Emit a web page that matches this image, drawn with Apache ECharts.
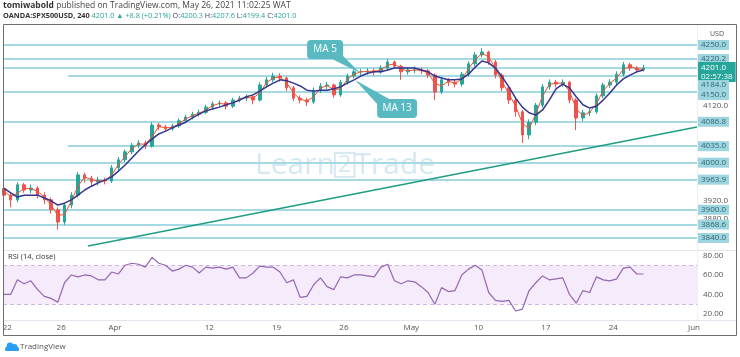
<!DOCTYPE html>
<html><head><meta charset="utf-8">
<script src="https://cdn.jsdelivr.net/npm/echarts@6/dist/echarts.min.js"></script>
<style>html,body{margin:0;padding:0;background:#fff}#c{width:740px;height:357px}</style>
</head><body><div id="c"></div>
<script>
// 12-hour bars, trading-day index (Mar 22 = 0)
const barOpen = [3945,3931,3921,3953,3942,3946,3931,3921,3900,3874, 3910,3931,3974,3967,3959,3963,3961,3989,4006,4023, 4037,4042,4035,4080,4076,4072,4078,4089,4097,4103, 4107,4118,4125,4127,4120,4133,4137,4140,4133,4165, 4176,4184,4180,4159,4137,4133,4129,4154,4163,4165, 4144,4171,4184,4193,4193,4195,4193,4201,4214,4205, 4193,4197,4197,4195,4186,4150,4176,4171,4167,4188, 4210,4229,4235,4214,4186,4159,4133,4108,4059,4086, 4122,4161,4171,4167,4171,4133,4095,4106,4108,4142, 4165,4171,4188,4208,4201,4197];
const barClose = [3931,3921,3953,3942,3946,3931,3921,3900,3874,3910, 3931,3974,3967,3959,3963,3961,3989,4006,4023,4037, 4042,4035,4080,4076,4072,4078,4089,4097,4103,4107, 4118,4125,4127,4120,4133,4137,4140,4133,4165,4176, 4184,4180,4159,4137,4133,4129,4154,4163,4165,4144, 4171,4184,4193,4193,4195,4193,4201,4214,4205,4193, 4197,4197,4195,4186,4150,4176,4171,4167,4188,4210, 4229,4235,4214,4186,4159,4133,4108,4059,4086,4122, 4161,4171,4167,4171,4133,4095,4106,4108,4142,4165, 4171,4188,4208,4201,4197,4201];
const barHigh = [3952,3936,3958,3957,3954,3950,3937,3926,3905,3915, 3937,3980,3979,3972,3970,3968,3995,4012,4028,4042, 4048,4047,4086,4085,4080,4083,4094,4102,4108,4113, 4123,4130,4132,4131,4138,4142,4145,4143,4171,4182, 4191,4190,4183,4163,4143,4138,4160,4169,4172,4168, 4176,4189,4198,4199,4201,4200,4207,4220,4217,4208, 4203,4204,4202,4199,4190,4181,4180,4177,4193,4215, 4235,4243,4238,4218,4190,4164,4138,4112,4092,4127, 4167,4177,4176,4177,4174,4137,4112,4114,4147,4170, 4177,4194,4214,4212,4205,4208];
const barLow = [3925,3905,3916,3936,3935,3924,3912,3892,3858,3868, 3903,3926,3958,3950,3952,3954,3957,3984,4001,4018, 4031,4029,4032,4069,4066,4068,4074,4085,4092,4098, 4103,4114,4119,4113,4116,4128,4131,4124,4130,4160, 4171,4172,4152,4131,4126,4120,4125,4148,4156,4138, 4140,4166,4179,4186,4187,4185,4189,4196,4199,4176, 4187,4190,4188,4180,4133,4146,4163,4160,4162,4183, 4205,4224,4208,4179,4152,4125,4098,4042,4050,4080, 4117,4155,4160,4161,4126,4069,4088,4099,4104,4137, 4159,4166,4183,4195,4191,4194];
const ma5 = [3940,3928,3935,3945,3945,3939,3927,3910,3888,3890, 3918,3950,3970,3964,3961,3962,3974,3996,4013,4030, 4040,4039,4055,4077,4074,4075,4083,4093,4100,4105, 4112,4121,4126,4124,4127,4135,4139,4137,4148,4170, 4180,4182,4170,4148,4135,4131,4140,4158,4164,4155, 4157,4177,4188,4193,4194,4194,4197,4207,4210,4199, 4195,4197,4196,4191,4168,4163,4173,4169,4177,4199, 4219,4232,4225,4200,4172,4146,4120,4084,4072,4104, 4141,4166,4169,4169,4152,4114,4100,4107,4125,4153, 4168,4180,4198,4205,4199,4199];
const ma13 = [3946,3936,3927,3931,3931,3931,3925,3919,3910,3914, 3921,3931,3942,3950,3957,3963,3970,3982,3995,4010, 4025,4038,4050,4061,4067,4074,4080,4086,4095,4103, 4110,4114,4118,4123,4127,4133,4140,4144,4152,4161, 4169,4176,4174,4169,4163,4154,4152,4154,4154,4157, 4161,4169,4176,4184,4190,4193,4193,4197,4201,4201, 4201,4201,4197,4193,4184,4180,4176,4176,4178,4188, 4203,4216,4212,4201,4182,4161,4137,4118,4106,4101, 4112,4133,4157,4167,4159,4140,4123,4116,4120,4133, 4148,4165,4178,4186,4193,4197];
const rsi = [40,40,55,51,54,45,38,36,32,52, 60,58,60,59,55,55,63,61,70,72, 71,68,78,72,70,64,66,70,68,62, 68,67,68,66,68,57,57,62,69,68, 68,63,52,55,37,38,50,57,48,45, 58,57,60,60,59,58,68,71,54,51, 54,53,48,42,30,47,43,44,60,66, 70,65,42,34,33,34,23,25,44,52, 59,55,56,57,40,31,44,42,58,55, 54,56,67,68,61,61];

const tickDays = [0,4,8,15,20,25,30,35,40,45,51];
const tickLabels = ['22','26','Apr','12','19','26','May','10','17','24','Jun'];
const levelLines = [4250,4220.2,4201,4184,4150,4086.8,4035,4000,3963.9,3900,3868.6,3840];
const rayLevels = [4184,4035];
const rayStartDay = 4.5;
const priceTicks = [4120,3920,3880];
const rsiTicks = [80,60,40,20];
const trendLine = [[6.0,3823],[51.22,4075.8]];
const lastPrice = 4201.0;
const countdown = '02:57:38';

const X_MIN = -0.32, X_MAX = 51.22;
const barTime = j => j * 0.5 - 0.25;
const FONT = 'Open Sans';

const candleData = barOpen.map((o, j) => [barTime(j), o, barClose[j], barLow[j], barHigh[j]]);
const ma5Data = ma5.map((v, j) => [barTime(j), v]);
const ma13Data = ma13.map((v, j) => [barTime(j), v]);
const rsiData = rsi.map((v, j) => [barTime(j), v]);
const labelMap = {}; tickDays.forEach((d, i) => labelMap[d] = tickLabels[i]);

const levelLabelBase = {show:true, position:'end', distance:1, fontSize:8, fontFamily:FONT,
  backgroundColor:'#9dd5e0', color:'#33636d', padding:[1,3,1,3]};
const labelShift = {4184:[0,9], 4150:[0,3]};
const levelData = levelLines.map(v => {
  let lab = Object.assign({}, levelLabelBase, {formatter: v.toFixed(1)});
  if (labelShift[v]) lab.offset = labelShift[v];
  if (v === lastPrice) {
    lab = Object.assign({}, levelLabelBase, {formatter: v.toFixed(1) + '\n' + countdown,
      backgroundColor:'#26a69a', color:'#fff', lineHeight:9, offset:[0,4]});
  }
  const ls = {color:'#a6d9e3', width:2, type:'solid'};
  if (rayLevels.includes(v)) {
    return [{coord:[rayStartDay, v], label: lab, lineStyle: ls}, {coord:[X_MAX, v]}];
  }
  return {yAxis: v, label: lab, lineStyle: ls};
});

const chart = echarts.init(document.getElementById('c'), null, {renderer:'canvas'});
const option = {
  animation:false,
  backgroundColor:'#ffffff',
  grid:[
    {left:3, right:43, top:24, height:226, containLabel:false, outerBoundsMode:'none'},
    {left:3, right:43, top:250, height:70, containLabel:false, outerBoundsMode:'none'}
  ],
  xAxis:[
    {type:'value', gridIndex:0, min:X_MIN, max:X_MAX, show:false},
    {type:'value', gridIndex:1, min:X_MIN, max:X_MAX,
      axisLine:{show:false}, axisTick:{show:false}, splitLine:{show:false},
      axisLabel:{customValues:tickDays, formatter:v => labelMap[v] || '', fontSize:8, color:'#555', fontFamily:FONT, margin:4}}
  ],
  yAxis:[
    {type:'value', gridIndex:0, position:'right', min:3814.5, max:4294.6,
      axisLine:{show:false}, axisTick:{show:false}, splitLine:{show:false},
      axisLabel:{customValues:priceTicks, formatter:v => v.toFixed(1), fontSize:8, color:'#555', fontFamily:FONT, margin:6}},
    {type:'value', gridIndex:1, position:'right', min:13.8, max:85.6,
      axisLine:{show:false}, axisTick:{show:false}, splitLine:{show:false},
      axisLabel:{customValues:rsiTicks, formatter:v => v.toFixed(2), fontSize:8, color:'#555', fontFamily:FONT, margin:6}}
  ],
  series:[
    {type:'candlestick', xAxisIndex:0, yAxisIndex:0, data:candleData, barWidth:3, z:3,
      itemStyle:{color:'#26a69a', color0:'#ef5350', borderColor:'#26a69a', borderColor0:'#ef5350', borderWidth:1},
      markLine:{silent:true, symbol:['none','none'], animation:false, z:1, data:levelData}},
    {type:'line', xAxisIndex:0, yAxisIndex:0, data:trendLine, symbol:'none', z:2,
      lineStyle:{color:'#1f9d84', width:1.5}},
    {type:'line', xAxisIndex:0, yAxisIndex:0, data:ma5Data, symbol:'none', z:5,
      lineStyle:{color:'#f0502d', width:1}},
    {type:'line', xAxisIndex:0, yAxisIndex:0, data:ma13Data, symbol:'none', z:6,
      lineStyle:{color:'#35358f', width:1.5}},
    {type:'line', xAxisIndex:1, yAxisIndex:1, data:rsiData, symbol:'none', z:5,
      lineStyle:{color:'#9466b3', width:1.2},
      markArea:{silent:true, itemStyle:{color:'rgba(190,130,225,0.16)'}, data:[[{yAxis:30},{yAxis:70}]]},
      markLine:{silent:true, symbol:['none','none'], label:{show:false},
        lineStyle:{color:'#cdb6e3', type:[4,3], width:1}, data:[{yAxis:70},{yAxis:30}]}}
  ],
  graphic:{elements:[
    {id:'wm', type:'text', x:255, y:165, z:0, silent:true,
      style:{text:'{a|Learn}{b|2}{a|Trade}', verticalAlign:'middle',
        rich:{a:{fontSize:30, fontFamily:FONT, fill:'#d6e9f3'},
              b:{fontSize:24, fontFamily:FONT, fill:'#d6e9f3', borderColor:'#d6e9f3', borderWidth:2, padding:[0,3,0,3]}}}},
    {id:'frame', type:'rect', z:50, silent:true, shape:{x:3.5, y:24.5, width:733, height:311},
      style:{fill:'none', stroke:'#6e6e6e', lineWidth:1}},
    {id:'sep1', type:'line', z:49, silent:true, shape:{x1:3, y1:250.5, x2:737, y2:250.5}, style:{stroke:'#e3e6ee', lineWidth:1}},
    {id:'sep2', type:'line', z:49, silent:true, shape:{x1:3, y1:320.5, x2:737, y2:320.5}, style:{stroke:'#e3e6ee', lineWidth:1}},
    {id:'sep3', type:'line', z:49, silent:true, shape:{x1:697.5, y1:24, x2:697.5, y2:320}, style:{stroke:'#eceff4', lineWidth:1}},
    {id:'h1', type:'text', x:3, y:6, z:60, style:{text:'{b|tomiwabold} published on TradingView.com, May 26, 2021 11:02:25 WAT',
      verticalAlign:'middle', fontSize:8.5, fontFamily:FONT, fill:'#444', rich:{b:{fontSize:8.5, fontWeight:'bold', fontFamily:FONT, fill:'#333'}}}},
    {id:'h2', type:'text', x:3, y:16, z:60, style:{text:'{b|OANDA:SPX500USD, 240} {g|4201.0 \u25B2 +8.8 (+0.21%)} O:{g|4200.3} H:{g|4207.6} L:{g|4199.4} C:{g|4201.0}',
      verticalAlign:'middle', fontSize:7.3, fontFamily:FONT, fill:'#444',
      rich:{b:{fontSize:7.3, fontWeight:'bold', fontFamily:FONT, fill:'#333'}, g:{fontSize:7.3, fontFamily:FONT, fill:'#2aa39a'}}}},
    {id:'usd', type:'text', x:710, y:34, z:60, style:{text:'USD', fontSize:7, fontFamily:FONT, fill:'#555', verticalAlign:'middle'}},
    {id:'rsiLab', type:'text', x:8, y:257, z:60, style:{text:'RSI (14, close)', fontSize:7.5, fontFamily:FONT, fill:'#333', verticalAlign:'middle'}},
    {id:'logo1', type:'circle', z:60, shape:{cx:10, cy:346, r:3.5}, style:{fill:'#2a9df4'}},
    {id:'logo2', type:'circle', z:60, shape:{cx:14.5, cy:347, r:3}, style:{fill:'#2a9df4'}},
    {id:'logo3', type:'rect', z:60, shape:{x:5, y:347, width:14, height:4, r:1.5}, style:{fill:'#2a9df4'}},
    {id:'logoT', type:'text', x:20, y:347, z:60, style:{text:'TradingView', fontSize:8, fontFamily:FONT, fill:'#555', verticalAlign:'middle'}}
  ]}
};
chart.setOption(option);

// MA callouts anchored to data points
const tip5 = chart.convertToPixel({xAxisIndex:0, yAxisIndex:0}, [26.2, 4190.5]);
const tip13 = chart.convertToPixel({xAxisIndex:0, yAxisIndex:0}, [25.83, 4175.6]);
const boxColor = '#58b9c1';
chart.setOption({graphic:{elements:[
  {id:'c5p', type:'polygon', z:80, shape:{points:[[tip5[0]-30, tip5[1]-15],[tip5[0]-19, tip5[1]-19],[tip5[0], tip5[1]]]}, style:{fill:boxColor}},
  {id:'c5b', type:'rect', z:81, shape:{x:tip5[0]-53, y:tip5[1]-33, width:36, height:19, r:4}, style:{fill:boxColor}},
  {id:'c5t', type:'text', z:82, x:tip5[0]-35, y:tip5[1]-23.5, style:{text:'MA 5', fontSize:10, fontFamily:FONT, fill:'#fff', align:'center', verticalAlign:'middle'}},
  {id:'c13p', type:'polygon', z:80, shape:{points:[[tip13[0]+23, tip13[1]+25],[tip13[0]+34, tip13[1]+19],[tip13[0], tip13[1]]]}, style:{fill:boxColor}},
  {id:'c13b', type:'rect', z:81, shape:{x:tip13[0]+22, y:tip13[1]+19, width:40, height:19, r:4}, style:{fill:boxColor}},
  {id:'c13t', type:'text', z:82, x:tip13[0]+42, y:tip13[1]+28.5, style:{text:'MA 13', fontSize:10, fontFamily:FONT, fill:'#fff', align:'center', verticalAlign:'middle'}}
]}});
</script></body></html>
